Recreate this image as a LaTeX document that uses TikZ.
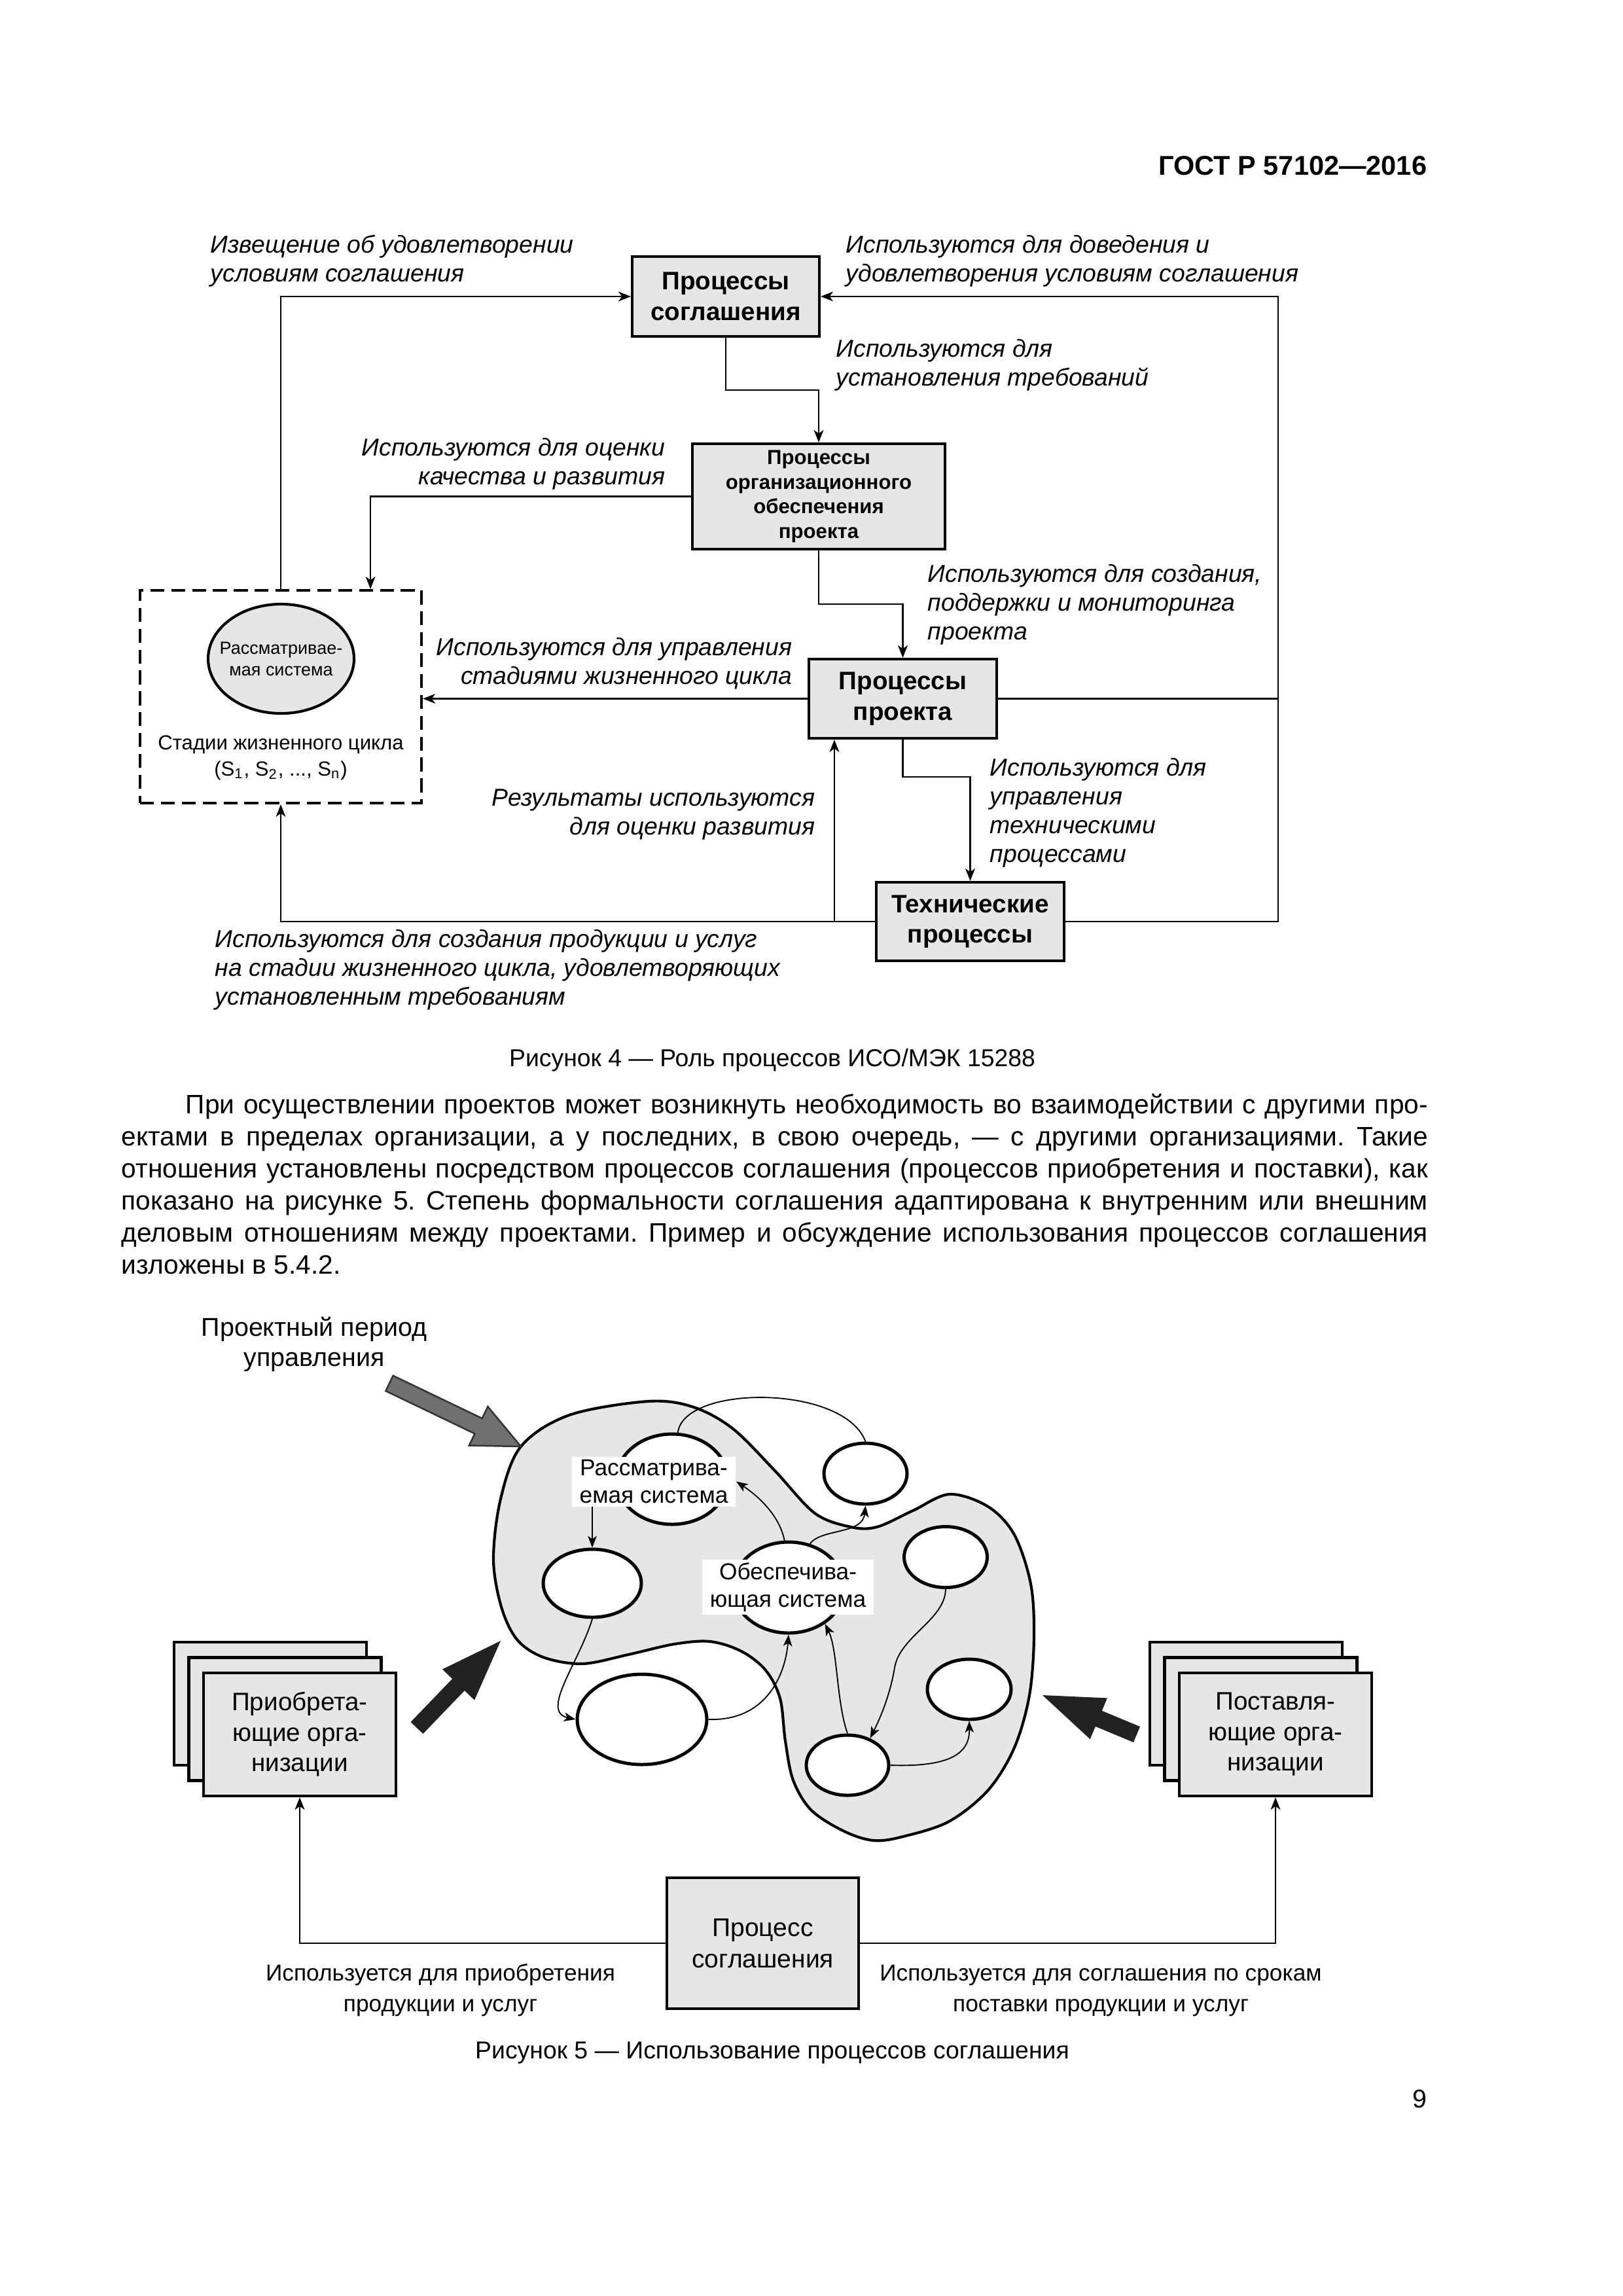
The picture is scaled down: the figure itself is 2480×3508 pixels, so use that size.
\documentclass[tikz,border=0pt]{standalone}
\usepackage{fontspec}
\setmainfont{Liberation Sans}
\usepackage{tikz}
\usetikzlibrary{arrows.meta,shapes.geometric,calc,positioning}

\definecolor{boxfill}{HTML}{E6E6E6}
\definecolor{darkarrow}{HTML}{222222}
\definecolor{grayarrow}{HTML}{707070}
\newcommand{\pxu}{0.084667mm}

\begin{document}
\begin{tikzpicture}[x=\pxu, y=-\pxu]
\tikzstyle{procbox}=[draw, line width=1pt, fill=boxfill, align=center, inner sep=0pt, font=\bfseries\fontsize{9.3}{11.2}\selectfont]
\tikzstyle{note}=[inner sep=0pt, font=\itshape\fontsize{9}{10.6}\selectfont]
\tikzstyle{conn}=[->, >={Stealth[length=1.6mm,width=1.25mm,inset=0.45mm]}, line width=0.55pt]
\tikzstyle{link}=[->, >={Stealth[length=1.5mm,width=1.15mm,inset=0.4mm]}, line width=0.45pt]
\tikzstyle{orgbox}=[draw, line width=1pt, fill=boxfill, align=center, inner sep=0pt, minimum width=294*\pxu, minimum height=188*\pxu, font=\fontsize{9.3}{11.2}\selectfont]
\tikzstyle{sysell}=[draw, ellipse, line width=1.2pt, fill=white, inner sep=0pt]
\tikzstyle{ellabel}=[fill=white, inner xsep=1mm, inner ysep=0.4mm, align=center, font=\fontsize{8.5}{10.1}\selectfont]
\tikzstyle{plain}=[inner sep=0pt, align=center]

\fill[white] (0,0) rectangle (2480,3508);
\useasboundingbox (0,0) rectangle (2480,3508);

% header
\node[anchor=base east, inner sep=0pt, font=\bfseries\fontsize{10}{12}\selectfont] (head) at (2181,267) {ГОСТ Р 57102—2016};

% figure 4
\node[procbox, minimum width=286*\pxu, minimum height=122*\pxu] (agr) at (1109,453) {Процессы\\соглашения};
\node[procbox, minimum width=386*\pxu, minimum height=161*\pxu, font=\bfseries\fontsize{7.5}{9}\selectfont] (org) at (1251,758.5) {Процессы\\организационного\\обеспечения\\проекта};
\node[procbox, minimum width=287*\pxu, minimum height=121*\pxu] (proj) at (1379.5,1067.5) {Процессы\\проекта};
\node[procbox, minimum width=287*\pxu, minimum height=120*\pxu] (tech) at (1482.5,1408) {Технические\\процессы};
\node[draw, line width=1pt, dash pattern=on 1.8mm off 0.9mm, minimum width=430*\pxu, minimum height=325*\pxu, inner sep=0pt] (stages) at (429,1064.5) {};
\node[draw, ellipse, line width=1pt, fill=boxfill, minimum width=223*\pxu, minimum height=167*\pxu, inner sep=0pt] (cons) at (429.5,1006.5) {};
\node[plain, font=\fontsize{6.5}{7.9}\selectfont] (conslab) at (cons.center) {Рассматривае-\\мая система};
\node[plain, anchor=base, font=\fontsize{7.5}{9.6}\selectfont] (lcs) at (429,1185) {Стадии жизненного цикла\\(S\textsubscript{1}, S\textsubscript{2}, ..., S\textsubscript{n})};

\node[note, anchor=base west, align=left] (n1) at (321,430) {Извещение об удовлетворении\\условиям соглашения};
\node[note, anchor=base west, align=left] (n2) at (1292,430) {Используются для доведения и\\удовлетворения условиям соглашения};
\node[note, anchor=base west, align=left] (n3) at (1277,589) {Используются для\\установления требований};
\node[note, anchor=base east, align=right] (n4) at (1017,740) {Используются для оценки\\качества и развития};
\node[note, anchor=base west, align=left] (n5) at (1417,977) {Используются для создания,\\поддержки и мониторинга\\проекта};
\node[note, anchor=base east, align=right] (n6) at (1211,1045) {Используются для управления\\стадиями жизненного цикла};
\node[note, anchor=base west, align=left] (n7) at (1512,1317) {Используются для\\управления\\техническими\\процессами};
\node[note, anchor=base east, align=right] (n8) at (1246,1275) {Результаты используются\\для оценки развития};
\node[note, anchor=base west, align=left] (n9) at (328,1535) {Используются для создания продукции и услуг\\на стадии жизненного цикла, удовлетворяющих\\установленным требованиям};

\coordinate (rgt) at (1953,453);
\coordinate (fb) at ($(proj.south west)+(41,0)$);
\draw[conn] (stages.north) |- (agr.west);
\draw[conn] (tech.east) -| (rgt) -- (agr.east);
\draw[line width=0.55pt] (proj.east) -- (proj.east -| rgt);
\draw[conn] (agr.south) |- ($(agr.south)!.5!(org.north)$) -| (org.north);
\draw[conn] (org.west) -| ($(stages.north east)+(-80,0)$);
\draw[conn] (org.south) |- ($(org.south)!.5!(proj.north)$) -| (proj.north);
\draw[conn] (proj.west) -- (proj.west -| stages.east);
\draw[conn] (proj.south) -- ++(0,57) -| (tech.north);
\draw[conn] (tech.west) -| (stages.south);
\draw[conn] (fb |- tech.west) -- (fb);

\node[anchor=base, inner sep=0pt, font=\fontsize{9}{11}\selectfont] (cap4) at (1180,1629) {Рисунок 4 — Роль процессов ИСО/МЭК 15288};

% text
\node[anchor=base west, inner sep=0pt, text width=1996*\pxu, align=justify, font=\fontsize{9.8}{11.83}\selectfont] (par) at (185,1701) {\frenchspacing\tolerance=9999\hspace*{8.3mm}При осуществлении проектов может возникнуть необходимость во взаимодействии с другими про-\linebreak ектами в пределах организации, а у последних, в свою очередь, — с другими организациями. Такие\linebreak отношения установлены посредством процессов соглашения (процессов приобретения и поставки), как\linebreak показано на рисунке 5. Степень формальности соглашения адаптирована к внутренним или внешним\linebreak деловым отношениям между проектами. Пример и обсуждение использования процессов соглашения\linebreak изложены в 5.4.2.};

% figure 5
\node[plain, anchor=base, font=\fontsize{9.5}{11}\selectfont] (period) at (480,2087) {Проектный период\\управления};

\draw[line width=1pt, fill=boxfill] plot[smooth cycle, tension=0.55] coordinates {(991,2141) (1060,2150) (1120,2183) (1184,2247) (1245,2312) (1300,2333) (1340,2333) (1395,2308) (1451,2283) (1510,2302) (1550,2345) (1575,2420) (1580,2500) (1573,2590) (1550,2670) (1510,2735) (1450,2783) (1380,2806) (1335,2812) (1290,2798) (1240,2766) (1212,2720) (1200,2660) (1192,2595) (1170,2552) (1133,2523) (1085,2508) (1030,2512) (960,2528) (890,2542) (830,2532) (790,2505) (766,2455) (754,2382) (765,2290) (796,2210) (870,2162)};

\filldraw[fill=grayarrow, draw=black!80, line width=0.6pt] (600.6,2101.8) -- (736.7,2167.1) -- (745.4,2149.1) -- (796,2210) -- (716.8,2208.5) -- (725.5,2190.5) -- (589.4,2125.2) -- cycle;
\fill[darkarrow] (627.6,2631) -- (691.1,2565) -- (676,2550.4) -- (765,2507) -- (725,2597.6) -- (709.9,2583) -- (646.4,2649) -- cycle;
\fill[darkarrow] (1742,2638) -- (1683.8,2613.8) -- (1691.9,2594.4) -- (1593,2590) -- (1665.7,2657.2) -- (1673.8,2637.8) -- (1732,2662) -- cycle;

\node[sysell, minimum width=170*\pxu, minimum height=138*\pxu] (soi) at (1027,2260) {};
\node[sysell, minimum width=127*\pxu, minimum height=93*\pxu] (ea) at (1322.5,2251.5) {};
\node[sysell, minimum width=150*\pxu, minimum height=104*\pxu] (eb) at (905,2419) {};
\node[sysell, minimum width=170*\pxu, minimum height=139*\pxu] (enab) at (1205,2425.5) {};
\node[sysell, minimum width=127*\pxu, minimum height=93*\pxu] (ec) at (1445,2379) {};
\node[sysell, minimum width=198*\pxu, minimum height=138*\pxu] (ed) at (981,2627) {};
\node[sysell, minimum width=126*\pxu, minimum height=92*\pxu] (ee) at (1295,2697) {};
\node[sysell, minimum width=128*\pxu, minimum height=92*\pxu] (ef) at (1481,2581) {};
\node[ellabel] (soilab) at (999,2263.5) {Рассматрива-\\емая система};
\node[ellabel] (enablab) at (1204,2425) {Обеспечива-\\ющая система};

\draw[line width=0.45pt] (soi.83) .. controls (1045,2115) and (1290,2115) .. (ea.north);
\draw[link] (enab.95) .. controls (1190,2310) and (1150,2280) .. (soilab.east);
\draw[link] (enab.64) .. controls (1255,2335) and (1318,2345) .. (ea.south);
\draw[link] (eb.north |- soilab.south) -- (eb.north);
\draw[link] (eb.south) .. controls (885,2540) and (825,2615) .. (ed.west);
\draw[link] (ed.east) .. controls (1170,2630) and (1200,2560) .. (enab.south);
\draw[link] (ee.north) .. controls (1278,2600) and (1280,2520) .. (enab.-45);
\draw[link] (ec.south) .. controls (1444,2475) and (1375,2500) .. (1367,2548) .. controls (1360,2590) and (1345,2625) .. (ee.50);
\draw[link] (ee.east) .. controls (1450,2700) and (1482,2680) .. (ef.south);

\node[orgbox] (acqc) at (413,2603) {};
\node[orgbox] (acqb) at (435.5,2626.5) {};
\node[orgbox] (acq) at (458,2650) {Приобрета-\\ющие орга-\\низации};
\node[orgbox] (supc) at (1904,2603) {};
\node[orgbox] (supb) at (1926.5,2626.5) {};
\node[orgbox] (sup) at (1949,2650) {Поставля-\\ющие орга-\\низации};

\node[draw, line width=1pt, fill=boxfill, minimum width=293*\pxu, minimum height=200*\pxu, align=center, inner sep=0pt, font=\fontsize{9.4}{11.5}\selectfont] (agrb) at (1165.5,2969) {Процесс\\соглашения};
\draw[conn] (agrb.west) -| (acq.south);
\draw[conn] (agrb.east) -| (sup.south);

\node[plain, anchor=base, font=\fontsize{8.5}{11.3}\selectfont] (useacq) at (673,3073) {Используется для приобретения\\продукции и услуг};
\node[plain, anchor=base, font=\fontsize{8.5}{11.3}\selectfont] (usesup) at (1682,3073) {Используется для соглашения по срокам\\поставки продукции и услуг};

\node[anchor=base, inner sep=0pt, font=\fontsize{9}{11}\selectfont] (cap5) at (1180,3145) {Рисунок 5 — Использование процессов соглашения};
\node[anchor=base east, inner sep=0pt, font=\fontsize{9.5}{12}\selectfont] (pg) at (2181,3220) {9};
\end{tikzpicture}
\end{document}
